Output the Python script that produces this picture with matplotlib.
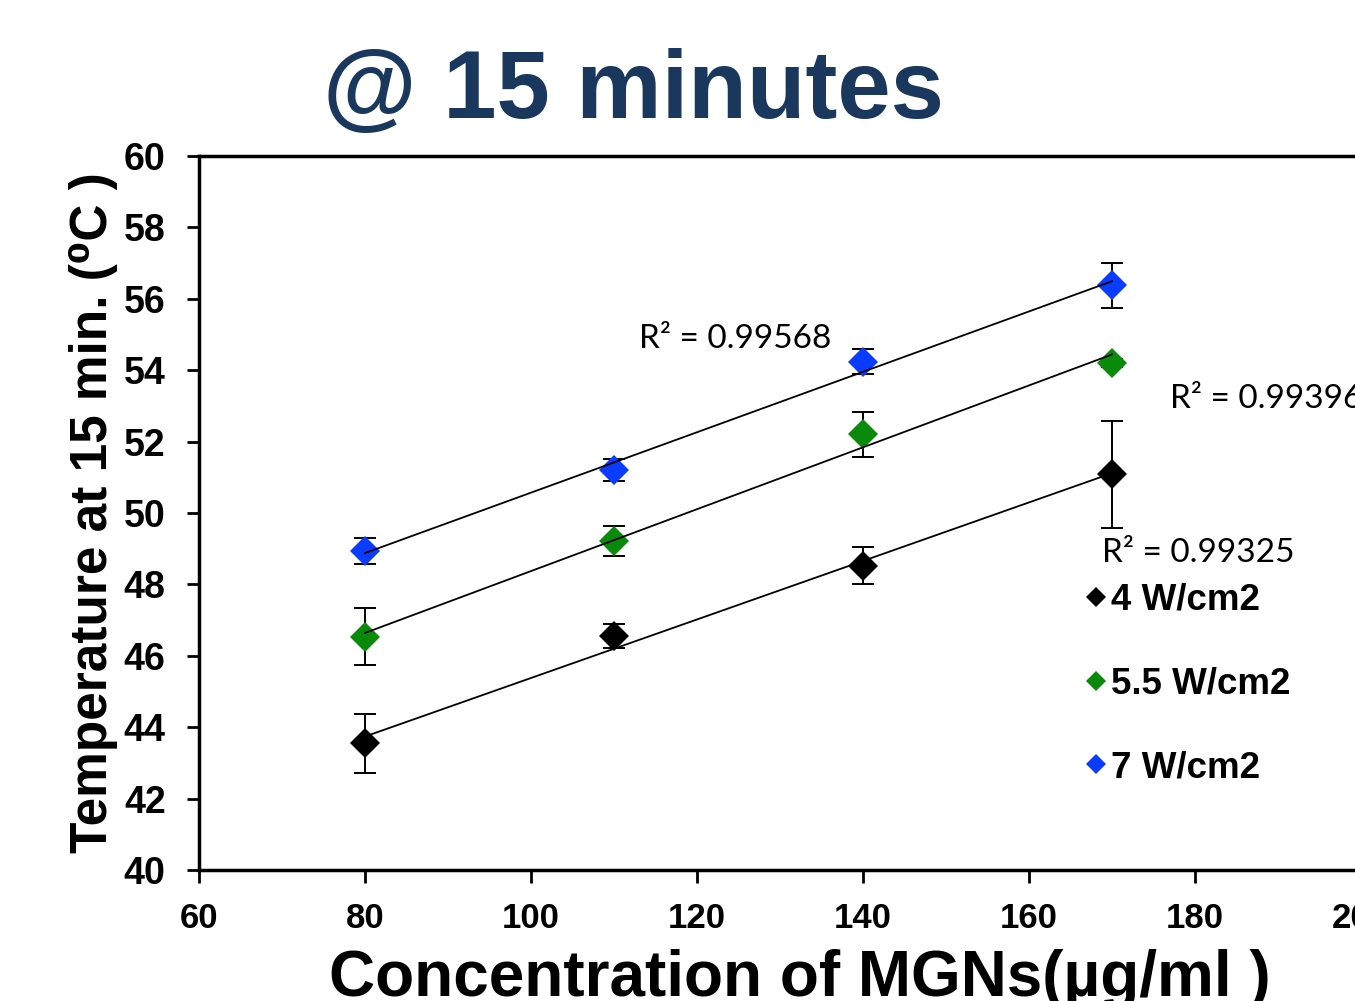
import numpy as np
import matplotlib
matplotlib.use("Agg")
import matplotlib.pyplot as plt

# values
conc = [80, 110, 140, 170]
temp_4w = [43.55, 46.55, 48.52, 51.09]
err_4w = [0.82, 0.33, 0.52, 1.50]
temp_55w = [46.53, 49.22, 52.21, 54.20]
err_55w = [0.80, 0.42, 0.63, 0.10]
temp_7w = [48.93, 51.20, 54.23, 56.38]
err_7w = [0.36, 0.30, 0.35, 0.63]

labels = ["4 W/cm2", "5.5 W/cm2", "7 W/cm2"]
colors = ["#000000", "#0a8a0a", "#0a3cff"]
r2_text = ["R² = 0.99325", "R² = 0.99396", "R² = 0.99568"]
r2_pos = [(168.8, 48.88), (177.0, 53.2), (113.0, 54.87)]

FAM = ["Liberation Sans", "DejaVu Sans"]
W, H = 1355, 1001
fig = plt.figure(figsize=(W / 100, H / 100), dpi=100)
ax = fig.add_axes([199 / W, 1 - 870 / H, (1361 - 199) / W, (870 - 156) / H])

series = [(temp_4w, err_4w), (temp_55w, err_55w), (temp_7w, err_7w)]
handles = []
for (t, e), c, lab in zip(series, colors, labels):
    ax.errorbar(conc, t, yerr=e, fmt="none", ecolor="black", elinewidth=1.4,
                capsize=8, capthick=1.4, zorder=2)
    h, = ax.plot(conc, t, "D", color=c, markersize=15, markeredgewidth=0,
                 linestyle="none", zorder=3, label=lab)
    handles.append(h)
    k, b = np.polyfit(conc, t, 1)
    xs = np.array([conc[0], conc[-1]])
    ax.plot(xs, k * xs + b, color="black", lw=1.3, zorder=4)

for txt, (x, y) in zip(r2_text, r2_pos):
    ax.text(x, y, txt, fontsize=24, family=["Lato", "DejaVu Sans"], va="center",
            ha="left", clip_on=False)

ax.set_xlim(60, 200)
ax.set_ylim(40, 60)
ax.set_xticks(np.arange(60, 201, 20))
ax.set_yticks(np.arange(40, 61, 2))
ax.tick_params(direction="out", length=9, width=2)
ax.tick_params(axis="y", labelsize=27, pad=15)
ax.tick_params(axis="x", labelsize=25, pad=14)
for lbl in ax.get_xticklabels() + ax.get_yticklabels():
    lbl.set_fontweight("bold")
    lbl.set_family(FAM)
for s in ["left", "bottom", "top", "right"]:
    ax.spines[s].set_linewidth(2.5)

ax.set_ylabel("Temperature at 15 min. (⁰C )", fontsize=37, fontweight="bold",
              family=FAM, labelpad=4)
fig.text(800 / W, 1 - 996 / H, "Concentration of MGNs(µg/ml )", fontsize=46,
         fontweight="bold", family=FAM, ha="center", va="baseline")
fig.text(633 / W, 1 - 118 / H, "@ 15 minutes", fontsize=69, fontweight="bold",
         family=FAM, color="#1a375e", ha="center", va="baseline")

leg = ax.legend(handles=handles, loc="upper left", bbox_to_anchor=(1087 / W, 1 - 583 / H),
                bbox_transform=fig.transFigure, frameon=False, markerscale=0.7,
                handlelength=0.5, handletextpad=0.15, labelspacing=1.32,
                prop={"family": FAM, "weight": "bold", "size": 26.5},
                borderaxespad=0, borderpad=0)

fig.savefig("out.png", dpi=100)
